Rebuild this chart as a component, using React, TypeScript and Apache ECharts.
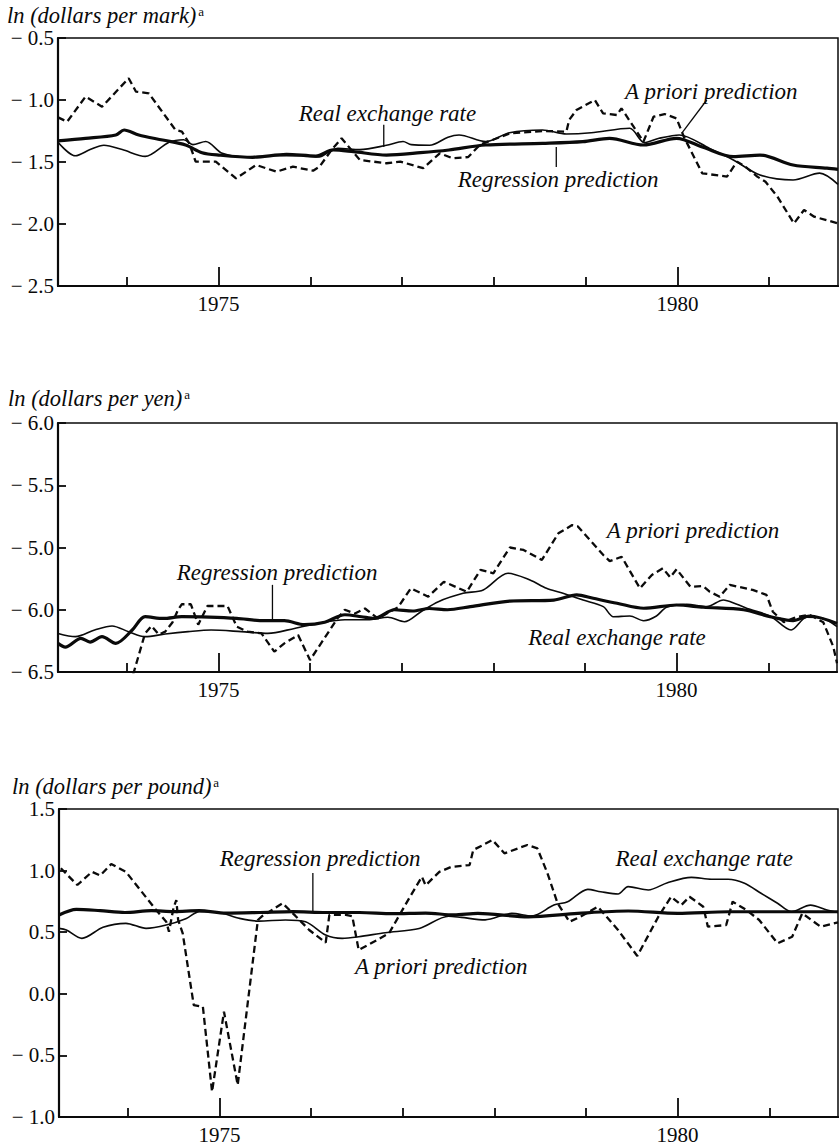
import { useEffect, useRef } from "react";
import * as echarts from "echarts";

type Pt = [number, number];

// Shared time axis (years, quarterly resolution of the source series)
const YEAR_MIN = 1973.25;
const YEAR_MAX = 1981.75;
const MINOR_YEARS = [1974, 1976, 1977, 1978, 1979, 1981];
const LABELED_YEARS = [1975, 1980];

// Y tick values and the labels printed beside them (bottom to top)
const MARK_TICKS = [-2.5, -2.0, -1.5, -1.0, -0.5];
const MARK_TICK_LABELS = ["− 2.5", "− 2.0", "− 1.5", "− 1.0", "− 0.5"];
const YEN_TICKS = [-6.5, -6.0, -5.5, -5.0, -4.5];
const YEN_TICK_LABELS = ["− 6.5", "− 6.0", "− 5.0", "− 5.5", "− 6.0"];
const POUND_TICKS = [-1.0, -0.5, 0.0, 0.5, 1.0, 1.5];
const POUND_TICK_LABELS = ["− 1.0", "− 0.5", "0.0", "0.5", "1.0", "1.5"];

// ---- Deutsche mark ----
const MARK_REAL: Pt[] = [
  [1973.25, -1.34], [1973.44, -1.45], [1973.6, -1.4], [1973.75, -1.365], [1973.95, -1.4],
  [1974.2, -1.455], [1974.46, -1.34], [1974.62, -1.32], [1974.72, -1.36], [1974.86, -1.335],
  [1975.04, -1.43], [1975.3, -1.46], [1975.6, -1.45], [1975.9, -1.45], [1976.1, -1.46],
  [1976.2, -1.42], [1976.3, -1.39], [1976.54, -1.4], [1976.83, -1.365], [1977.01, -1.335],
  [1977.1, -1.36], [1977.3, -1.365], [1977.5, -1.3], [1977.62, -1.282], [1977.91, -1.336],
  [1978.17, -1.264], [1978.53, -1.242], [1978.79, -1.274], [1979.06, -1.264], [1979.48, -1.228],
  [1979.64, -1.344], [1979.8, -1.309], [1980.02, -1.282], [1980.35, -1.39], [1980.61, -1.484],
  [1980.9, -1.605], [1981.26, -1.645], [1981.55, -1.59], [1981.75, -1.68],
];
const MARK_REGRESSION: Pt[] = [
  [1973.25, -1.33], [1973.55, -1.31], [1973.88, -1.282], [1973.97, -1.242], [1974.13, -1.282],
  [1974.39, -1.323], [1974.64, -1.363], [1974.82, -1.425], [1975.0, -1.444], [1975.37, -1.462],
  [1975.74, -1.438], [1976.06, -1.452], [1976.25, -1.403], [1976.47, -1.417], [1976.83, -1.444],
  [1977.2, -1.425], [1977.51, -1.403], [1977.91, -1.363], [1978.53, -1.35], [1978.97, -1.336],
  [1979.26, -1.309], [1979.63, -1.363], [1979.99, -1.309], [1980.28, -1.381], [1980.61, -1.457],
  [1980.9, -1.444], [1981.26, -1.524], [1981.63, -1.55], [1981.75, -1.56],
];
const MARK_APRIORI: Pt[] = [
  [1973.25, -1.14], [1973.35, -1.175], [1973.55, -0.973], [1973.73, -1.054], [1974.02, -0.825],
  [1974.1, -0.933], [1974.24, -0.946], [1974.53, -1.242], [1974.6, -1.255], [1974.68, -1.35],
  [1974.75, -1.497], [1974.97, -1.497], [1975.19, -1.632], [1975.41, -1.524], [1975.63, -1.578],
  [1975.81, -1.538], [1976.03, -1.57], [1976.1, -1.538], [1976.23, -1.403], [1976.34, -1.309],
  [1976.54, -1.484], [1976.83, -1.51], [1976.98, -1.497], [1977.23, -1.55], [1977.41, -1.43],
  [1977.55, -1.47], [1977.72, -1.46], [1977.85, -1.36], [1978.17, -1.27], [1978.53, -1.25],
  [1978.79, -1.255], [1978.82, -1.161], [1978.9, -1.081], [1979.1, -1.0], [1979.19, -1.108],
  [1979.34, -1.121], [1979.39, -1.067], [1979.63, -1.336], [1979.74, -1.135], [1979.86, -1.113],
  [1979.99, -1.148], [1980.07, -1.296], [1980.27, -1.591], [1980.54, -1.618], [1980.65, -1.497],
  [1980.74, -1.538], [1980.87, -1.618], [1980.96, -1.659], [1981.09, -1.78], [1981.27, -1.995],
  [1981.38, -1.887], [1981.49, -1.941], [1981.75, -1.995],
];

// ---- Japanese yen ----
const YEN_REAL: Pt[] = [
  [1973.25, -6.19], [1973.44, -6.216], [1973.65, -6.163], [1973.84, -6.13], [1974.02, -6.176],
  [1974.2, -6.216], [1974.42, -6.195], [1974.67, -6.176], [1974.92, -6.163], [1975.25, -6.176],
  [1975.54, -6.19], [1975.83, -6.15], [1976.12, -6.104], [1976.38, -6.08], [1976.63, -6.08],
  [1976.85, -6.06], [1977.03, -6.096], [1977.21, -6.016], [1977.4, -5.935], [1977.67, -5.868],
  [1977.89, -5.841], [1978.16, -5.707], [1978.4, -5.761], [1978.58, -5.828], [1978.76, -5.868],
  [1978.98, -5.922], [1979.2, -5.975], [1979.31, -6.056], [1979.49, -6.05], [1979.64, -6.088],
  [1979.78, -6.05], [1979.89, -5.98], [1980.11, -5.956], [1980.33, -5.975], [1980.51, -5.922],
  [1980.65, -5.954], [1980.8, -5.997], [1981.02, -6.05], [1981.25, -6.163], [1981.42, -6.06],
  [1981.6, -6.07], [1981.75, -6.136],
];
const YEN_REGRESSION: Pt[] = [
  [1973.25, -6.27], [1973.33, -6.3], [1973.5, -6.23], [1973.6, -6.26], [1973.73, -6.216],
  [1973.88, -6.27], [1974.06, -6.163], [1974.2, -6.056], [1974.4, -6.07], [1974.6, -6.056],
  [1974.9, -6.06], [1975.2, -6.07], [1975.5, -6.088], [1975.72, -6.088], [1975.94, -6.12],
  [1976.16, -6.1], [1976.38, -6.04], [1976.56, -6.056], [1976.7, -6.07], [1976.92, -6.0],
  [1977.12, -6.01], [1977.3, -5.99], [1977.5, -6.0], [1977.75, -5.975], [1978.18, -5.93],
  [1978.66, -5.922], [1978.91, -5.88], [1979.09, -5.908], [1979.35, -5.948], [1979.64, -5.988],
  [1980.0, -5.962], [1980.29, -5.98], [1980.73, -6.0], [1981.02, -6.056], [1981.27, -6.088],
  [1981.45, -6.05], [1981.75, -6.11],
];
const YEN_APRIORI: Pt[] = [
  [1974.07, -6.52], [1974.2, -6.19], [1974.27, -6.13], [1974.35, -6.2], [1974.42, -6.176],
  [1974.5, -6.1], [1974.56, -6.0], [1974.6, -5.956], [1974.7, -5.956], [1974.78, -6.12],
  [1974.88, -5.97], [1975.1, -5.97], [1975.2, -6.136], [1975.32, -6.176], [1975.47, -6.19],
  [1975.61, -6.337], [1975.72, -6.27], [1975.87, -6.203], [1976.0, -6.404], [1976.12, -6.27],
  [1976.3, -6.069], [1976.38, -6.0], [1976.49, -6.03], [1976.6, -5.99], [1976.74, -6.07],
  [1976.96, -5.98], [1977.1, -5.828], [1977.29, -5.895], [1977.46, -5.775], [1977.71, -5.855],
  [1977.86, -5.68], [1978.0, -5.707], [1978.18, -5.5], [1978.33, -5.52], [1978.53, -5.6],
  [1978.71, -5.386], [1978.86, -5.32], [1978.92, -5.33], [1979.2, -5.56], [1979.27, -5.61],
  [1979.4, -5.574], [1979.6, -5.828], [1979.73, -5.72], [1979.85, -5.667], [1979.93, -5.74],
  [1980.0, -5.675], [1980.15, -5.815], [1980.29, -5.81], [1980.36, -5.855], [1980.47, -5.895],
  [1980.58, -5.8], [1980.83, -5.841], [1980.98, -5.88], [1981.05, -6.016], [1981.17, -6.1],
  [1981.3, -6.06], [1981.45, -6.04], [1981.6, -6.1], [1981.71, -6.297], [1981.75, -6.43],
];

// ---- British pound ----
const POUND_REAL: Pt[] = [
  [1973.25, 0.531], [1973.33, 0.518], [1973.5, 0.45], [1973.73, 0.54], [1973.98, 0.572],
  [1974.2, 0.531], [1974.42, 0.558], [1974.64, 0.612], [1974.78, 0.667], [1975.0, 0.66],
  [1975.22, 0.612], [1975.43, 0.59], [1975.72, 0.599], [1975.94, 0.585], [1976.16, 0.477],
  [1976.34, 0.45], [1976.52, 0.463], [1976.81, 0.496], [1977.18, 0.53], [1977.5, 0.63],
  [1977.64, 0.62], [1977.9, 0.6], [1978.19, 0.653], [1978.41, 0.632], [1978.65, 0.72],
  [1978.8, 0.747], [1979.02, 0.848], [1979.16, 0.829], [1979.35, 0.81], [1979.46, 0.87],
  [1979.68, 0.843], [1979.89, 0.902], [1980.15, 0.945], [1980.37, 0.93], [1980.55, 0.93],
  [1980.73, 0.897], [1980.91, 0.816], [1981.09, 0.735], [1981.24, 0.666], [1981.45, 0.72],
  [1981.63, 0.68], [1981.75, 0.66],
];
const POUND_REGRESSION: Pt[] = [
  [1973.25, 0.64], [1973.44, 0.686], [1973.7, 0.675], [1973.97, 0.66], [1974.26, 0.675],
  [1974.5, 0.667], [1974.78, 0.675], [1975.07, 0.655], [1975.44, 0.66], [1975.8, 0.667],
  [1976.16, 0.66], [1976.53, 0.66], [1976.89, 0.65], [1977.25, 0.655], [1977.56, 0.64],
  [1977.82, 0.653], [1978.37, 0.625], [1978.91, 0.653], [1979.46, 0.672], [1980.0, 0.653],
  [1980.55, 0.666], [1981.1, 0.666], [1981.75, 0.666],
];
const POUND_APRIORI: Pt[] = [
  [1973.27, 1.019], [1973.45, 0.883], [1973.61, 0.99], [1973.7, 0.96], [1973.82, 1.053],
  [1973.98, 0.99], [1974.31, 0.68], [1974.42, 0.585], [1974.45, 0.504], [1974.5, 0.7],
  [1974.53, 0.761], [1974.55, 0.6], [1974.6, 0.49], [1974.72, -0.091], [1974.82, -0.105],
  [1974.92, -0.795], [1975.05, -0.145], [1975.2, -0.74], [1975.42, 0.599], [1975.47, 0.632],
  [1975.69, 0.735], [1975.83, 0.632], [1975.98, 0.518], [1976.16, 0.415], [1976.2, 0.64],
  [1976.38, 0.64], [1976.45, 0.63], [1976.52, 0.355], [1976.85, 0.49], [1977.07, 0.775],
  [1977.21, 0.95], [1977.25, 0.88], [1977.4, 0.99], [1977.53, 1.03], [1977.73, 1.045],
  [1977.77, 1.167], [1977.98, 1.248], [1978.11, 1.14], [1978.36, 1.208], [1978.47, 1.18],
  [1978.58, 0.978], [1978.69, 0.735], [1978.82, 0.585], [1978.94, 0.626], [1979.13, 0.707],
  [1979.35, 0.518], [1979.56, 0.307], [1979.79, 0.626], [1979.93, 0.788], [1980.04, 0.72],
  [1980.13, 0.788], [1980.28, 0.707], [1980.33, 0.545], [1980.53, 0.558], [1980.6, 0.748],
  [1980.75, 0.68], [1980.89, 0.599], [1981.09, 0.41], [1981.25, 0.463], [1981.36, 0.653],
  [1981.56, 0.545], [1981.75, 0.58],
];

type Note = { text: string; at: Pt; pointer?: [Pt, Pt] };

const MARK_NOTES: Note[] = [
  { text: "Real exchange rate", at: [1976.84, -1.105], pointer: [[1976.8, -1.2], [1976.8, -1.38]] },
  { text: "A priori prediction", at: [1980.37, -0.935], pointer: [[1980.32, -1.0], [1980.05, -1.266]] },
  { text: "Regression prediction", at: [1978.7, -1.645], pointer: [[1978.68, -1.379], [1978.68, -1.54]] },
];
const YEN_NOTES: Note[] = [
  { text: "Regression prediction", at: [1975.64, -5.697], pointer: [[1975.59, -5.8], [1975.59, -6.082]] },
  { text: "A priori prediction", at: [1980.18, -5.36] },
  { text: "Real exchange rate", at: [1979.35, -6.219] },
];
const POUND_NOTES: Note[] = [
  { text: "Regression prediction", at: [1976.1, 1.102], pointer: [[1976.02, 0.98], [1976.02, 0.664]] },
  { text: "A priori prediction", at: [1977.42, 0.218] },
  { text: "Real exchange rate", at: [1980.29, 1.102] },
];

const SERIF = "'Liberation Serif', 'Times New Roman', serif";
const INK = "#0a0a0a";

const PANELS = [
  {
    title: "ln (dollars per mark)",
    titleAt: [7, 15] as Pt,
    grid: { left: 58, top: 38, width: 780, height: 248 },
    yMin: -2.5, yMax: -0.5, ticks: MARK_TICKS, tickLabels: MARK_TICK_LABELS,
    real: MARK_REAL, regression: MARK_REGRESSION, apriori: MARK_APRIORI, notes: MARK_NOTES,
  },
  {
    title: "ln (dollars per yen)",
    titleAt: [8, 398] as Pt,
    grid: { left: 58, top: 423, width: 779, height: 249 },
    yMin: -6.5, yMax: -4.5, ticks: YEN_TICKS, tickLabels: YEN_TICK_LABELS,
    real: YEN_REAL, regression: YEN_REGRESSION, apriori: YEN_APRIORI, notes: YEN_NOTES,
  },
  {
    title: "ln (dollars per pound)",
    titleAt: [12, 786] as Pt,
    grid: { left: 59, top: 809, width: 779, height: 308 },
    yMin: -1.0, yMax: 1.5, ticks: POUND_TICKS, tickLabels: POUND_TICK_LABELS,
    real: POUND_REAL, regression: POUND_REGRESSION, apriori: POUND_APRIORI, notes: POUND_NOTES,
  },
];

function tickLabel(ticks: number[], labels: string[], v: number): string {
  for (let i = 0; i < ticks.length; i++) {
    if (Math.abs(ticks[i] - v) < 1e-6) return labels[i];
  }
  return "";
}

export default function App() {
  const ref = useRef<HTMLDivElement>(null);

  useEffect(() => {
    if (!ref.current) return;
    const chart = echarts.init(ref.current, null, { renderer: "svg" });

    const grids: any[] = [];
    const xAxes: any[] = [];
    const yAxes: any[] = [];
    const series: any[] = [];

    PANELS.forEach((p, i) => {
      grids.push({
        ...p.grid,
        show: true,
        borderColor: INK,
        borderWidth: 1.5,
        backgroundColor: "transparent",
        containLabel: false,
      });
      // minor year ticks
      xAxes.push({
        type: "value",
        gridIndex: i,
        position: "bottom",
        min: YEAR_MIN,
        max: YEAR_MAX,
        axisLine: { show: true, onZero: false, lineStyle: { color: INK, width: 2.2 } },
        axisTick: {
          show: true,
          inside: true,
          length: 9,
          customValues: MINOR_YEARS,
          lineStyle: { color: INK, width: 1.8 },
        },
        axisLabel: { show: false },
        splitLine: { show: false },
      });
      // labelled years with long ticks
      xAxes.push({
        type: "value",
        gridIndex: i,
        position: "bottom",
        min: YEAR_MIN,
        max: YEAR_MAX,
        axisLine: { show: false, onZero: false },
        axisTick: {
          show: true,
          inside: true,
          length: 19,
          customValues: LABELED_YEARS,
          lineStyle: { color: INK, width: 1.8 },
        },
        axisLabel: {
          show: true,
          customValues: LABELED_YEARS,
          formatter: (v: number) => String(Math.round(v)),
          fontFamily: SERIF,
          fontSize: 21,
          color: INK,
          margin: 7,
        },
        splitLine: { show: false },
      });
      yAxes.push({
        type: "value",
        gridIndex: i,
        min: p.yMin,
        max: p.yMax,
        interval: 0.5,
        axisLine: { show: true, onZero: false, lineStyle: { color: INK, width: 2.2 } },
        axisTick: { show: true, inside: true, length: 8, lineStyle: { color: INK, width: 1.8 } },
        axisLabel: {
          show: true,
          showMinLabel: true,
          showMaxLabel: true,
          formatter: (v: number) => tickLabel(p.ticks, p.tickLabels, v),
          fontFamily: SERIF,
          fontSize: 21,
          color: INK,
          margin: 4,
        },
        splitLine: { show: false },
      });

      const base = {
        type: "line",
        xAxisIndex: i * 2,
        yAxisIndex: i,
        showSymbol: false,
        symbol: "none",
        clip: true,
        silent: true,
      };
      series.push({
        ...base,
        name: "Real exchange rate",
        data: p.real,
        smooth: 0.3,
        lineStyle: { color: INK, width: 1.6 },
      });
      series.push({
        ...base,
        name: "Regression prediction",
        data: p.regression,
        smooth: 0.3,
        lineStyle: { color: INK, width: 3.2 },
      });
      series.push({
        ...base,
        name: "A priori prediction",
        data: p.apriori,
        smooth: false,
        lineStyle: { color: INK, width: 2.3, type: [7, 4] },
      });
    });

    chart.setOption({
      animation: false,
      backgroundColor: "#ffffff",
      textStyle: { fontFamily: SERIF },
      grid: grids,
      xAxis: xAxes,
      yAxis: yAxes,
      series,
    });

    const graphics: any[] = [];
    PANELS.forEach((p, i) => {
      graphics.push({
        type: "text",
        x: p.titleAt[0],
        y: p.titleAt[1],
        style: {
          text: `{t|${p.title}}{s|a}`,
          verticalAlign: "middle",
          align: "left",
          rich: {
            t: { fontFamily: SERIF, fontStyle: "italic", fontSize: 22.5, fill: INK, lineHeight: 26 },
            s: { fontFamily: SERIF, fontSize: 13, fill: INK, lineHeight: 26, verticalAlign: "top", padding: [3, 0, 0, 2] },
          },
        },
      });
      p.notes.forEach((n) => {
        const c = chart.convertToPixel({ seriesIndex: i * 3 }, n.at) as number[];
        graphics.push({
          type: "text",
          x: c[0],
          y: c[1],
          style: {
            text: n.text,
            fontFamily: SERIF,
            fontStyle: "italic",
            fontSize: 23,
            fill: INK,
            align: "center",
            verticalAlign: "middle",
          },
        });
        if (n.pointer) {
          const a = chart.convertToPixel({ seriesIndex: i * 3 }, n.pointer[0]) as number[];
          const b = chart.convertToPixel({ seriesIndex: i * 3 }, n.pointer[1]) as number[];
          graphics.push({
            type: "line",
            shape: { x1: a[0], y1: a[1], x2: b[0], y2: b[1] },
            style: { stroke: INK, lineWidth: 1.3 },
          });
        }
      });
    });
    chart.setOption({ graphic: graphics });

    return () => chart.dispose();
  }, []);

  return (
    <div
      ref={ref}
      style={{ position: "absolute", left: 0, top: 0, width: 839, height: 1145, background: "#fff" }}
    />
  );
}
